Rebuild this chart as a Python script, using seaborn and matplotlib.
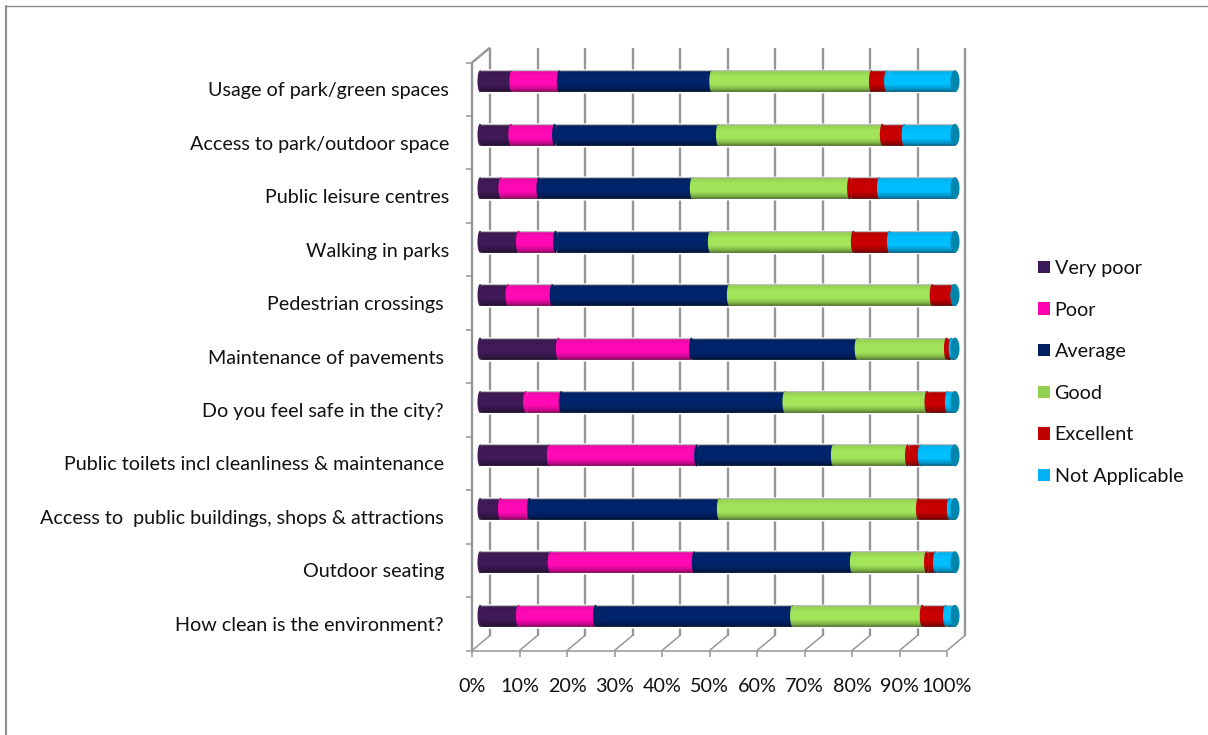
import numpy as np
import pandas as pd
import matplotlib
matplotlib.use("Agg")
import matplotlib.pyplot as plt
from matplotlib.lines import Line2D
from matplotlib.patches import Ellipse, Patch
from matplotlib.transforms import IdentityTransform, ScaledTranslation, offset_copy
import seaborn as sns

categories = [
    "Usage of park/green spaces",
    "Access to park/outdoor space",
    "Public leisure centres",
    "Walking in parks",
    "Pedestrian crossings ",
    "Maintenance of pavements ",
    "Do you feel safe in the city? ",
    "Public toilets incl cleanliness & maintenance ",
    "Access to  public buildings, shops & attractions ",
    "Outdoor seating ",
    "How clean is the environment? ",
]
ratings = ["Very poor", "Poor", "Average", "Good", "Excellent", "Not Applicable"]

very_poor = [6.7, 6.5, 4.4, 8.1, 5.9, 16.5, 9.6, 14.6, 4.3, 14.8, 8.1]
poor = [10.0, 9.2, 8.0, 7.8, 9.3, 28.0, 7.5, 31.0, 6.1, 30.3, 16.2]
average = [32.1, 34.5, 32.3, 32.6, 37.3, 34.9, 47.1, 28.8, 40.0, 33.3, 41.5]
good = [33.6, 34.5, 33.1, 30.1, 42.7, 18.8, 29.9, 15.6, 41.9, 15.6, 27.3]
excellent = [3.2, 4.6, 6.3, 7.6, 4.4, 1.0, 4.3, 2.7, 6.5, 1.9, 4.9]
not_applicable = [14.4, 10.7, 15.9, 13.8, 0.4, 0.8, 1.6, 7.3, 1.2, 4.1, 2.0]

x_ticks = list(range(0, 101, 10))
x_labels = [f"{v}%" for v in x_ticks]

bar_colors = ["#3f1a57", "#ff0ab4", "#00246b", "#a2e45a", "#c80000", "#00bfff"]
legend_colors = ["#3a1a56", "#ff00b0", "#002060", "#92d050", "#c00000", "#00b0f0"]
cap_color = "#0085ad"
wall_color = "#969696"

sns.set_theme(style="white")
plt.rcParams["font.family"] = ["Lato", "DejaVu Sans"]

df = pd.DataFrame(
    [very_poor, poor, average, good, excellent, not_applicable],
    index=ratings,
    columns=categories,
).T
cum = df.cumsum(axis=1)

W, H = 1208, 735
fig = plt.figure(figsize=(W / 100, H / 100), dpi=100)
ax = fig.add_axes([480 / W, 1 - 642.5 / H, 475 / W, (642.5 - 54.6) / H])
ax.set_zorder(5)

bar_h = 0.41

# stacked look: longest cumulative bar first, shorter ones on top
for name, col in reversed(list(zip(ratings, bar_colors))):
    sns.barplot(
        x=cum[name].values, y=categories, order=categories, orient="h",
        color=col, saturation=1, width=bar_h, ax=ax, zorder=3,
    )

ax.set_xlim(0, 100)
ax.set_ylim(10.5, -0.5)
ax.set_xlabel("")
ax.set_ylabel("")
ax.patch.set_visible(False)
sns.despine(ax=ax, left=True, bottom=True)

# rounded segment starts
for i in range(len(categories)):
    starts = [0] + list(cum.iloc[i].values[:-1])
    for start, col in zip(starts, bar_colors):
        ax.add_patch(Ellipse((start, i), 1.05, bar_h, color=col, lw=0, zorder=4, clip_on=False))

# cylinder shading over every bar
pos = np.linspace(0, 1, 64)
shade = np.zeros((64, 1, 4))
shade[:, 0, 3] = np.interp(pos, [0, 0.08, 0.3, 0.65, 0.85, 1], [0.3, 0.08, 0, 0, 0.2, 0.5])
for i in range(len(categories)):
    ax.imshow(
        shade, extent=[0, 100, i + bar_h / 2, i - bar_h / 2], aspect="auto",
        interpolation="bilinear", zorder=5,
    )
    ax.add_patch(Ellipse((100, i), 1.9, bar_h, color=cap_color, lw=0, zorder=6, clip_on=False))
ax.set_xlim(0, 100)
ax.set_ylim(10.5, -0.5)

# fake 3d walls, front plane and back plane are shifted from the bar plane
front = offset_copy(ax.transData, fig, x=-8, y=-8, units="dots")
back = offset_copy(ax.transData, fig, x=10, y=7, units="dots")


def px_line(p0, p1, lw=1.4, color=wall_color):
    fig.add_artist(Line2D([p0[0], p1[0]], [p0[1], p1[1]], transform=IdentityTransform(),
                          color=color, lw=lw, zorder=1, solid_capstyle="butt"))


fig.canvas.draw()
for v in x_ticks:
    top = back.transform((v, -0.5))
    bot = back.transform((v, 10.5))
    f = front.transform((v, 10.5))
    px_line(top, bot, lw=1.7)
    px_line(f, bot, lw=1.1)
    px_line(f, (f[0], f[1] - 6), lw=1.1)

px_line(front.transform((0, 10.5)), front.transform((100, 10.5)), lw=1.1)
px_line(front.transform((0, 10.5)), front.transform((0, -0.5)), lw=1.7)
px_line(front.transform((0, -0.5)), back.transform((0, -0.5)), lw=1.7)
for k in range(12):
    f = front.transform((0, k - 0.5))
    px_line(f, (f[0] - 6, f[1]), lw=1.1)

# labels
ax.set_xticks(x_ticks)
ax.set_xticklabels(x_labels)
ax.tick_params(axis="x", length=0, pad=25.5, labelsize=14.2, labelcolor="#111111")
ax.tick_params(axis="y", length=0, pad=22.3, labelsize=14.2, labelcolor="#111111")
for lab in ax.get_xticklabels():
    lab.set_transform(lab.get_transform() + ScaledTranslation(-8 / 100, 0, fig.dpi_scale_trans))
for lab in ax.get_yticklabels():
    lab.set_transform(lab.get_transform() + ScaledTranslation(0, -8 / 100, fig.dpi_scale_trans))

handles = [Patch(facecolor=c, edgecolor="none", label=r) for r, c in zip(ratings, legend_colors)]
fig.legend(
    handles=handles, loc="center left", bbox_to_anchor=(1020 / W, 1 - 372.5 / H), frameon=False,
    fontsize=14.2, handlelength=0.6, handleheight=0.6, handletextpad=0.25, labelspacing=1.25,
    labelcolor="#111111",
)

# chart border, only top and left show in the crop
fig.add_artist(Line2D([5.5 / W, 5.5 / W], [0, 1 - 5.5 / H], color="#8c8c8c", lw=1.5))
fig.add_artist(Line2D([5.5 / W, 1], [1 - 5.5 / H, 1 - 5.5 / H], color="#8c8c8c", lw=1.0))

fig.savefig("out.png", dpi=100)
plt.close(fig)
